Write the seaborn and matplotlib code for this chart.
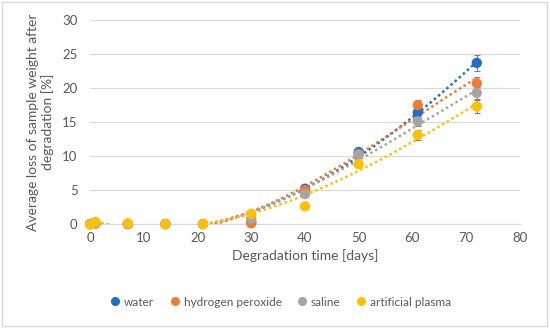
import numpy as np
import pandas as pd
import matplotlib
matplotlib.use("Agg")
import matplotlib.pyplot as plt
import seaborn as sns
from matplotlib.patches import Rectangle

# Data
days = [0, 1, 7, 14, 21, 30, 40, 50, 61, 72]
water = [0.0, 0.1, 0.0, 0.0, 0.0, 0.3, 5.2, 10.6, 16.4, 23.7]
peroxide = [0.0, 0.1, 0.0, 0.0, 0.0, 0.1, 5.0, 10.3, 17.5, 20.7]
saline = [0.0, 0.1, 0.0, 0.0, 0.0, 0.8, 4.4, 10.2, 15.1, 19.3]
plasma = [-0.1, 0.3, 0.1, 0.0, 0.0, 1.5, 2.6, 8.8, 13.1, 17.3]

water_err = [0, 0, 0, 0, 0, 0.2, 0.3, 0.4, 0.6, 1.2]
peroxide_err = [0, 0, 0, 0, 0, 0.2, 0.3, 0.3, 0.7, 0.9]
saline_err = [0, 0, 0, 0, 0, 0.3, 0.3, 0.4, 0.7, 0.9]
plasma_err = [0, 0, 0, 0, 0, 0.3, 0.2, 0.3, 0.7, 0.9]

names = ["water", "hydrogen peroxide", "saline", "artificial plasma"]
colors = ["#1F6FC8", "#ED7D31", "#A5A5A5", "#FFC000"]

series = [water, peroxide, saline, plasma]
errors = [water_err, peroxide_err, saline_err, plasma_err]

df = pd.concat([
    pd.DataFrame({"day": days, "loss": vals, "err": errs, "medium": name})
    for name, vals, errs in zip(names, series, errors)
])

sns.set_style("white")
plt.rcParams["font.family"] = ["Lato", "DejaVu Sans"]

fig = plt.figure(figsize=(5.5, 3.29), dpi=100)
ax = fig.add_axes([0.164, 0.319, 0.781, 0.62])

grey_txt = "#595959"

# error bars and dotted polynomial trendlines
xs = np.linspace(0, 72, 200)
for name, col in zip(names, colors):
    sub = df[df["medium"] == name]
    ax.errorbar(sub["day"], sub["loss"], yerr=sub["err"], fmt="none",
                ecolor="#7F7F7F", elinewidth=0.8, capsize=2, capthick=0.8, zorder=2)
    coef = np.polyfit(sub["day"], sub["loss"], 3)
    ax.plot(xs, np.polyval(coef, xs), linestyle=(0, (1, 1.2)), linewidth=1.8,
            color=col, zorder=3)

sns.scatterplot(data=df, x="day", y="loss", hue="medium", palette=colors,
                hue_order=names, s=55, edgecolor="none", ax=ax, zorder=4,
                legend=False, clip_on=False)

ax.set_xlim(0, 80)
ax.set_ylim(0, 30)
ax.set_xticks(range(0, 81, 10))
ax.set_yticks(range(0, 31, 5))
ax.grid(axis="y", color="#D9D9D9", linewidth=0.8)
ax.set_axisbelow(True)
for s in ["top", "right", "left"]:
    ax.spines[s].set_visible(False)
ax.spines["bottom"].set_color("#D9D9D9")
ax.tick_params(length=0, labelsize=9.5, colors=grey_txt)
ax.tick_params(axis="y", pad=9)
ax.tick_params(axis="x", pad=6)
ax.set_xlabel("Degradation time [days]", fontsize=10, color=grey_txt, labelpad=3)
ax.set_ylabel("Average loss of sample weight after\ndegradation [%]",
              fontsize=10, color=grey_txt, labelpad=6)

handles = [plt.Line2D([], [], marker="o", linestyle="none", color=c,
                      markersize=5.5) for c in colors]
fig.legend(handles, names, loc="center", bbox_to_anchor=(0.507, 0.082), ncol=4,
           frameon=False, fontsize=8.5, handletextpad=0.0, columnspacing=1.0,
           handlelength=1.5, labelcolor=grey_txt)

fig.patches.append(Rectangle((0.004, 0.01), 0.99, 0.985, transform=fig.transFigure,
                             fill=False, edgecolor="#D9D9D9", linewidth=1))

fig.savefig("out.png", dpi=100)
